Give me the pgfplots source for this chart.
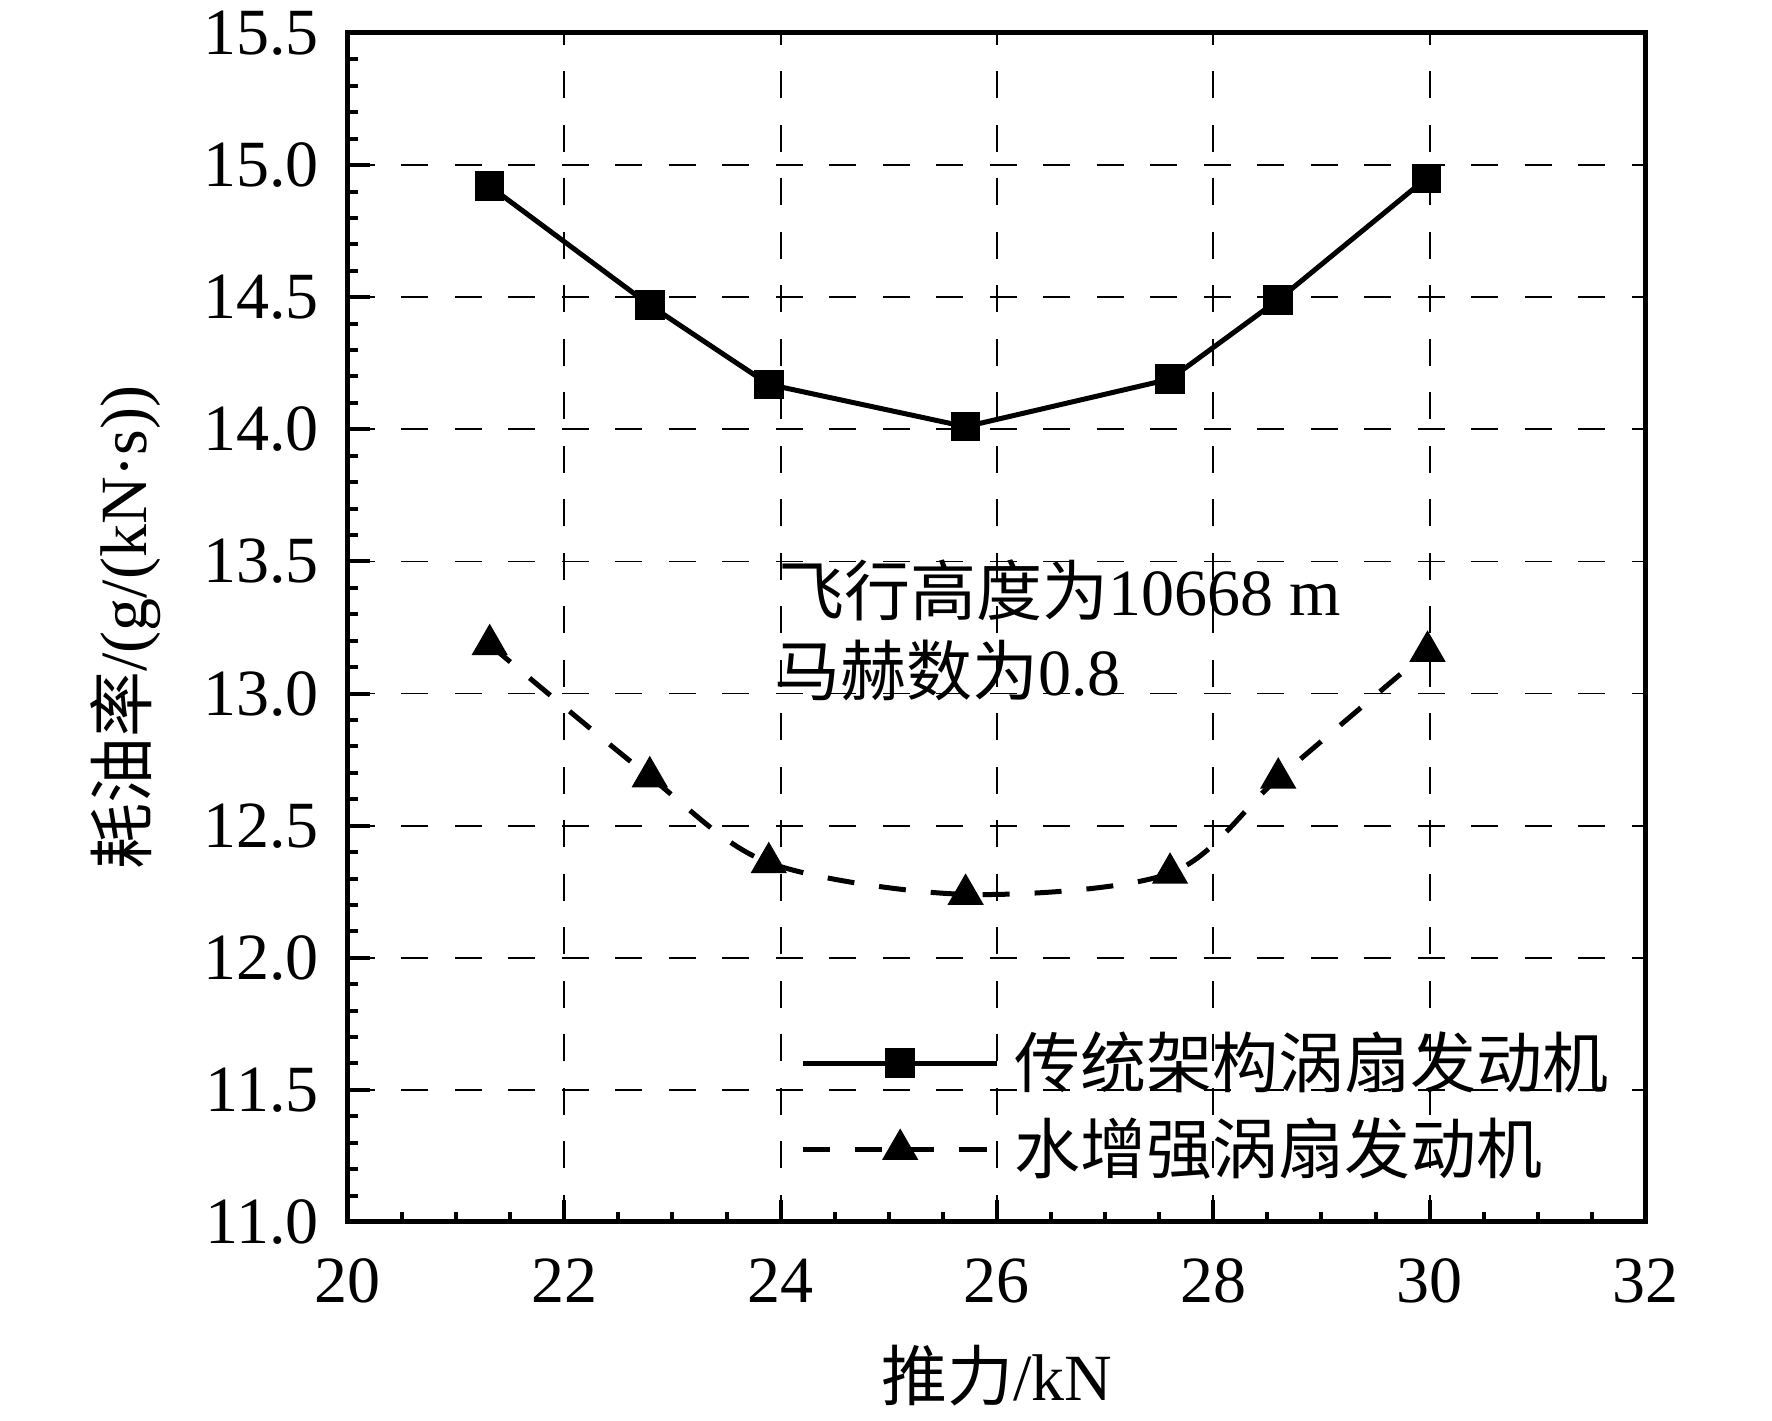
\documentclass[border=0pt]{standalone}
\usepackage{pgfplots}
\pgfplotsset{compat=1.18}
\usepackage{fontspec}
\setmainfont{Liberation Serif}
\newfontfamily\cjk{Noto Sans CJK SC}
\newcommand\fs{\fontsize{13.2}{15.8}\selectfont}
\begin{document}
\begin{tikzpicture}
\begin{axis}[
  scale only axis, width=259.6pt, height=237.8pt,
  xmin=20, xmax=32, ymin=11, ymax=15.5,
  xtick={20,22,...,32}, ytick={11,11.5,...,15.5},
  minor x tick num=3, minor y tick num=4,
  tick align=inside, xtick pos=bottom, ytick pos=left,
  major tick length=4.4pt, minor tick length=2pt,
  major tick style={black, line width=0.8pt},
  minor tick style={black, line width=0.8pt},
  axis line style={line width=1pt},
  grid=major,
  grid style={black, line width=0.35pt, dash pattern=on 5.4pt off 5.3pt},
  /pgf/number format/assume math mode=true,
  yticklabel style={/pgf/number format/.cd, fixed, fixed zerofill, precision=1, /tikz/.cd, inner sep=0pt, anchor=east, xshift=-5.6pt},
  xticklabel style={inner sep=0pt, anchor=north, yshift=-7.1pt},
  tick label style={font=\fs},
  label style={font=\fs},
  xlabel={{\cjk 推力}/kN},
  ylabel={{\cjk 耗油率}/(g/(kN·s))},
  xlabel style={at={(axis description cs:0.5,-0.1295)}, anchor=center},
  ylabel style={at={(axis description cs:-0.171,0.5)}, anchor=center},
  legend style={draw=none, fill=none, font=\fs, at={(axis description cs:0.348,0.0336)}, anchor=south west, inner sep=0pt, row sep=4.6pt, nodes={inner sep=0pt}},
  legend cell align=left,
  legend image code/.code={\draw[mark repeat=2, mark phase=2] plot coordinates {(0pt,0pt) (19.4pt,0pt) (38.8pt,0pt)}; \path (41.8pt,0pt);},
  clip=false,
]
\addplot[black, line width=1pt, mark=square*, mark size=2.8pt, mark options={solid, line width=0.3pt}] coordinates {
 (21.31,14.92) (22.79,14.47) (23.89,14.17) (25.71,14.01) (27.60,14.19) (28.60,14.49) (29.97,14.95)};
\addlegendentry{\cjk 传统架构涡扇发动机}
\addplot[black, line width=1pt, dash pattern=on 5.4pt off 5pt, smooth, mark=triangle*, mark size=3.9pt, mark options={solid, line width=0.3pt}] coordinates {
 (21.31,13.185) (22.79,12.685) (23.89,12.36) (25.71,12.24) (27.60,12.32) (28.60,12.68) (29.98,13.16)};
\addlegendentry{\cjk 水增强涡扇发动机}
\node[anchor=west, font=\fs, inner sep=0pt] at (axis cs:23.97,13.392) {{\cjk 飞行高度为}10668 m};
\node[anchor=west, font=\fs, inner sep=0pt] at (axis cs:23.93,13.089) {{\cjk 马赫数为}0.8};
\coordinate (bl) at (rel axis cs:0,0);
\coordinate (tr) at (rel axis cs:1,1);
\end{axis}
\pgfresetboundingbox
\path[use as bounding box] ([shift={(-69.6pt,-39.8pt)}]bl) rectangle ([shift={(25.2pt,6.6pt)}]tr);
\end{tikzpicture}
\end{document}
